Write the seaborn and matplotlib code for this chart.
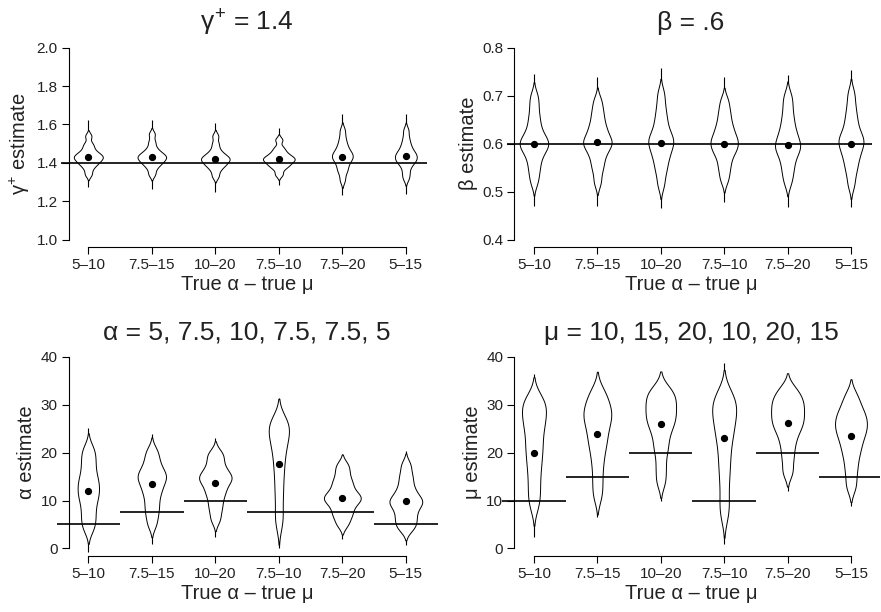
import numpy as np
import pandas as pd
import matplotlib
matplotlib.use("Agg")
import matplotlib.pyplot as plt
import seaborn as sns

# category labels: true alpha - true mu
conditions = ["5–10", "7.5–15", "10–20", "7.5–10", "7.5–20", "5–15"]

# bulk of the estimates per condition (read off the violin bodies)
gamma_est = [
    [1.34, 1.37, 1.39, 1.40, 1.41, 1.42, 1.43, 1.43, 1.44, 1.45, 1.46, 1.48, 1.50, 1.54],
    [1.34, 1.37, 1.39, 1.40, 1.41, 1.42, 1.43, 1.43, 1.44, 1.45, 1.46, 1.48, 1.51, 1.55],
    [1.33, 1.36, 1.38, 1.39, 1.40, 1.41, 1.42, 1.42, 1.43, 1.44, 1.45, 1.47, 1.50, 1.54],
    [1.34, 1.37, 1.385, 1.395, 1.405, 1.415, 1.42, 1.425, 1.435, 1.445, 1.46, 1.48, 1.52],
    [1.31, 1.35, 1.37, 1.39, 1.41, 1.42, 1.43, 1.44, 1.45, 1.46, 1.48, 1.50, 1.53, 1.57],
    [1.32, 1.35, 1.38, 1.40, 1.41, 1.42, 1.43, 1.44, 1.45, 1.46, 1.48, 1.50, 1.53, 1.57],
]
beta_est = [
    [0.52, 0.54, 0.555, 0.57, 0.58, 0.59, 0.595, 0.60, 0.605, 0.61, 0.62, 0.63, 0.645, 0.66, 0.68, 0.70],
    [0.52, 0.545, 0.56, 0.575, 0.585, 0.595, 0.60, 0.605, 0.61, 0.62, 0.63, 0.64, 0.655, 0.67, 0.69],
    [0.515, 0.54, 0.555, 0.57, 0.58, 0.59, 0.60, 0.605, 0.61, 0.62, 0.63, 0.645, 0.66, 0.68, 0.705],
    [0.525, 0.545, 0.56, 0.575, 0.585, 0.59, 0.60, 0.605, 0.61, 0.62, 0.63, 0.64, 0.655, 0.67, 0.69],
    [0.52, 0.54, 0.555, 0.57, 0.58, 0.59, 0.595, 0.60, 0.61, 0.62, 0.63, 0.645, 0.66, 0.68, 0.70],
    [0.515, 0.54, 0.555, 0.57, 0.58, 0.59, 0.60, 0.605, 0.61, 0.62, 0.63, 0.645, 0.66, 0.68, 0.705],
]
alpha_est = [
    [4, 5.5, 7, 8.5, 10, 11, 12, 13, 14, 15, 16.5, 18, 19.5, 21],
    [5, 7, 8.5, 10, 11.5, 12.5, 13.5, 14.5, 15, 15.5, 16.5, 17.5, 19, 20.5],
    [6, 8, 9.5, 11, 12, 13, 14, 14.5, 15, 15.5, 16.5, 17.5, 19, 20],
    [5, 7.5, 10.5, 13, 15.5, 17.5, 19.5, 21, 22.5, 23.5, 24.5, 25.5, 26.5, 27],
    [5, 6.5, 7.5, 8.5, 9.5, 10, 10.5, 11, 11.5, 12.5, 13.5, 14.5, 16, 17.5],
    [4, 5, 6, 7, 8, 9, 9.5, 10, 10.5, 11.5, 12.5, 14, 15.5, 17.5],
]
mu_est = [
    [9, 11.5, 14, 16.5, 18.5, 20.5, 22, 24, 25.5, 27, 28, 29.5, 30.5, 31.5],
    [11, 14, 17, 19.5, 21.5, 23, 24.5, 26, 27, 28, 29, 30, 31.5, 33],
    [14, 17, 20, 22, 24, 25.5, 26.5, 27.5, 28.5, 29.5, 30.5, 31.5, 32.5, 33.5],
    [7, 10, 13.5, 16.5, 19, 21.5, 23.5, 25, 26.5, 28, 29, 30, 31.5, 32.5],
    [16, 19, 21.5, 23.5, 25, 26, 27, 28, 29, 30, 31, 32, 33.5],
    [13, 16, 18.5, 20.5, 22, 23.5, 24.5, 25.5, 26.5, 27.5, 28.5, 30, 32],
]

# full range of the estimates (thin tails)
gamma_lo = [1.275, 1.266, 1.249, 1.283, 1.231, 1.240]
gamma_hi = [1.623, 1.622, 1.609, 1.583, 1.654, 1.654]
beta_lo = [0.470, 0.470, 0.465, 0.478, 0.468, 0.468]
beta_hi = [0.745, 0.739, 0.757, 0.738, 0.743, 0.753]
alpha_lo = [-0.8, 1.0, 2.4, 0.1, 2.0, 0.8]
alpha_hi = [25.2, 23.8, 23.1, 31.5, 19.7, 20.3]
mu_lo = [2.4, 6.6, 9.8, 1.0, 12.0, 8.9]
mu_hi = [36.4, 36.6, 36.9, 38.8, 36.2, 35.5]

# mean estimates (dots)
gamma_mean = [1.430, 1.428, 1.420, 1.418, 1.432, 1.435]
beta_mean = [0.600, 0.603, 0.601, 0.599, 0.597, 0.600]
alpha_mean = [12.0, 13.4, 13.7, 17.7, 10.6, 9.9]
mu_mean = [20.0, 23.8, 25.9, 23.1, 26.1, 23.5]

# true values
gamma_true = 1.4
beta_true = 0.6
alpha_true = [5, 7.5, 10, 7.5, 7.5, 5]
mu_true = [10, 15, 20, 10, 20, 15]


def long_table(samples):
    rows = []
    for cond, vals in zip(conditions, samples):
        for v in vals:
            rows.append((cond, v))
    return pd.DataFrame(rows, columns=["cond", "est"])


def style_axes(ax, yticks, ylabels, xright):
    ymin, ymax = yticks[0], yticks[-1]
    pad = 0.04 * (ymax - ymin)
    ax.set_ylim(ymin - pad, ymax + pad)
    ax.set_xlim(-0.5, xright)
    ax.set_yticks(yticks)
    ax.set_yticklabels(ylabels)
    ax.set_xticks(range(len(conditions)))
    ax.set_xticklabels(conditions)
    for side in ["top", "right"]:
        ax.spines[side].set_visible(False)
    ax.spines["left"].set_position(("data", -0.31))
    ax.spines["left"].set_bounds(ymin, ymax)
    ax.spines["bottom"].set_bounds(0, len(conditions) - 1)
    for side in ["left", "bottom"]:
        ax.spines[side].set_linewidth(0.8)
        ax.spines[side].set_color("black")
    ax.tick_params(left=True, bottom=True, direction="out", length=5, width=0.8,
                   color="black", labelsize=11, pad=3, labelcolor="#222222")
    ax.set_xlabel("True α – true μ", fontsize=14.5, labelpad=2, color="#222222")


sns.set_style("white")
plt.rcParams["font.family"] = ["Liberation Sans", "DejaVu Sans"]
plt.rcParams["mathtext.fontset"] = "custom"
plt.rcParams["mathtext.rm"] = "Liberation Sans"
plt.rcParams["mathtext.it"] = "Liberation Sans"
plt.rcParams["mathtext.bf"] = "Liberation Sans:bold"

fig = plt.figure(figsize=(8.81, 6.12), dpi=100)
ax1 = fig.add_axes([0.0642, 0.5959, 0.4325, 0.3387])
ax2 = fig.add_axes([0.5701, 0.5959, 0.4282, 0.3387])
ax3 = fig.add_axes([0.0642, 0.0915, 0.4325, 0.3377])
ax4 = fig.add_axes([0.5701, 0.0915, 0.4282, 0.3377])

panels = [
    (ax1, gamma_est, gamma_lo, gamma_hi, gamma_mean, 0.50, r"$\gamma^{+}$ = 1.4", r"$\gamma^{+}$ estimate",
     [1.0, 1.2, 1.4, 1.6, 1.8, 2.0], ["1.0", "1.2", "1.4", "1.6", "1.8", "2.0"], 5.5),
    (ax2, beta_est, beta_lo, beta_hi, beta_mean, 0.45, "β = .6", "β estimate",
     [0.4, 0.5, 0.6, 0.7, 0.8], ["0.4", "0.5", "0.6", "0.7", "0.8"], 5.45),
    (ax3, alpha_est, alpha_lo, alpha_hi, alpha_mean, 0.58, "α = 5, 7.5, 10, 7.5, 7.5, 5", "α estimate",
     [0, 10, 20, 30, 40], ["0", "10", "20", "30", "40"], 5.5),
    (ax4, mu_est, mu_lo, mu_hi, mu_mean, 0.52, "μ = 10, 15, 20, 10, 20, 15", "μ estimate",
     [0, 10, 20, 30, 40], ["0", "10", "20", "30", "40"], 5.45),
]

pos = np.arange(len(conditions))
for ax, est, lo, hi, means, w, title, ylab, yt, ytl, xr in panels:
    df = long_table(est)
    ax.vlines(pos, lo, hi, color="black", linewidth=0.8, zorder=0.5)
    sns.violinplot(data=df, x="cond", y="est", order=conditions, ax=ax,
                   fill=True, inner=None, color="white", linecolor="black",
                   linewidth=0.7, saturation=1, cut=2, bw_adjust=0.5,
                   density_norm="area", width=w)
    sns.pointplot(x=conditions, y=means, order=conditions, ax=ax,
                  linestyle="none", color="black", markers="o",
                  markersize=3.2, errorbar=None)
    ax.set_title(title, fontsize=19, pad=7, color="#222222")
    ax.set_ylabel(ylab, fontsize=14.5, labelpad=3, color="#222222")
    style_axes(ax, yt, ytl, xr)

# true values
ax1.hlines(gamma_true, -0.43, 5.33, color="black", linewidth=1.2, zorder=3)
ax2.hlines(beta_true, -0.43, 5.33, color="black", linewidth=1.2, zorder=3)
ax3.hlines(alpha_true, pos - 0.5, pos + 0.5, color="black", linewidth=1.2, zorder=3)
ax4.hlines(mu_true, pos - 0.5, pos + 0.5, color="black", linewidth=1.2, zorder=3)

fig.savefig("out.png", dpi=100)
